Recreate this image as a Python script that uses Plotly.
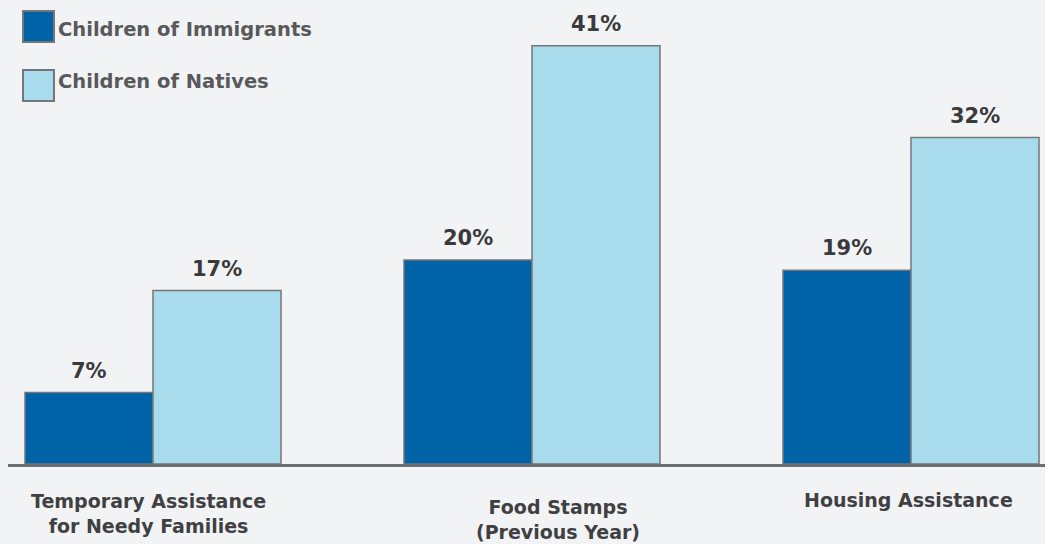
import plotly.graph_objects as go

categories = ["Temporary Assistance<br>for Needy Families", "Food Stamps<br>(Previous Year)", "Housing Assistance"]
series_names = ["Children of Immigrants", "Children of Natives"]
immigrants = [7, 20, 19]
natives = [17, 41, 32]

colors = ["#0062a7", "#a8dcec"]
border = "#757679"
bg = "#f2f3f5"
font_family = "DejaVu Sans"

W, H = 1045, 544
ml, mr, mt, mb = 8, 0, 0, 80
plot_w = W - ml - mr
unit_px = 379.0
x0 = -145 / unit_px
x1 = x0 + plot_w / unit_px

fig = go.Figure()
for name, vals, col in zip(series_names, [immigrants, natives], colors):
    fig.add_trace(go.Bar(
        x=categories, y=vals, name=name,
        marker=dict(color=col, line=dict(color=border, width=1.5)),
        showlegend=False, hoverinfo="skip",
    ))

annotations = []
bar_px = 128
for i, vals in enumerate([immigrants, natives]):
    sx = -bar_px / 2 if i == 0 else bar_px / 2
    for c, v in zip(categories, vals):
        annotations.append(dict(
            x=c, y=v, xref="x", yref="y", text=f"<b>{v}%</b>", showarrow=False,
            xshift=sx, yshift=8, yanchor="bottom",
            font=dict(family=font_family, size=21, color="#3a3a3c"),
        ))

# category labels below axis
label_xshift = [-5, 26, -3]
label_yshift = [-24, -30, -23]
for c, dx, dy in zip(categories, label_xshift, label_yshift):
    annotations.append(dict(
        x=c, y=0, xref="x", yref="paper", text=f"<b>{c}</b>", showarrow=False,
        xshift=dx, yshift=dy, yanchor="top", align="center",
        font=dict(family=font_family, size=19, color="#404042"),
    ))

# legend: swatches + labels
shapes = []
legend_y = [-11, -70]
for name, col, ly, tx_y in zip(series_names, colors, legend_y, [-30, -82]):
    shapes.append(dict(
        type="rect", xref="paper", yref="paper", xsizemode="pixel", ysizemode="pixel",
        xanchor=0, yanchor=1, x0=15, x1=46, y0=ly, y1=ly - 31,
        fillcolor=col, line=dict(color=border, width=2),
    ))
    annotations.append(dict(
        x=0, y=1, xref="paper", yref="paper", xanchor="left", yanchor="middle",
        xshift=48, yshift=tx_y + 1, text=f"<b>{name}</b>", showarrow=False,
        font=dict(family=font_family, size=19.5, color="#58595b"),
    ))

ymax = 464 / 10.2
fig.update_layout(
    width=W, height=H,
    margin=dict(l=ml, r=mr, t=mt, b=mb),
    paper_bgcolor=bg, plot_bgcolor=bg,
    barmode="group", bargap=1 - 256 / unit_px, bargroupgap=0,
    xaxis=dict(range=[x0, x1], showline=True, linecolor="#6d6e71", linewidth=3,
               showticklabels=False, ticks="", showgrid=False, zeroline=False, fixedrange=True),
    yaxis=dict(range=[0, ymax], visible=False, showgrid=False, zeroline=False, fixedrange=True),
    annotations=annotations, shapes=shapes,
)

fig.write_html(
    "out.html",
    config={"displayModeBar": False},
    post_script="document.body.style.margin='0';document.body.style.background='%s';" % bg,
)
